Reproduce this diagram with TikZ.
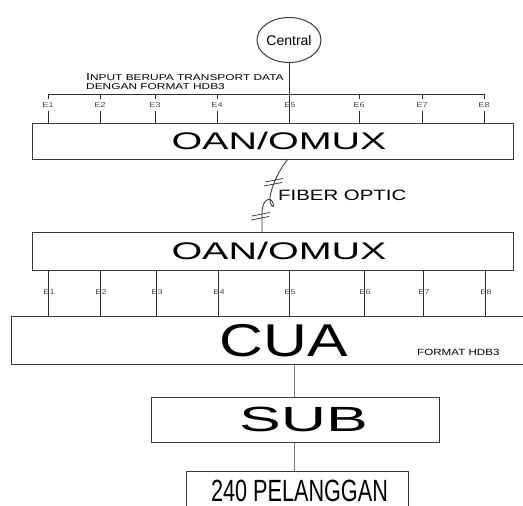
\documentclass[tikz,border=0pt]{standalone}
\usepackage{fontspec}
\setmainfont{Liberation Sans}
\usetikzlibrary{shapes.geometric}
\definecolor{boxcol}{HTML}{3A3A3A}
\definecolor{linecol}{HTML}{2E2E2E}
\definecolor{softline}{HTML}{7A7A7A}
\definecolor{labcol}{HTML}{4A4A4A}
\newcommand{\wide}[2]{\scalebox{#1}[1]{#2}}
\begin{document}
\begin{tikzpicture}[x=1pt,y=-1pt,
  unit/.style={draw=boxcol, line width=1pt, inner sep=0pt, text depth=0pt},
  conn/.style={draw=linecol, line width=0.9pt},
  softconn/.style={draw=softline, line width=1pt},
  elabel/.style={font=\fontsize{7}{7}\selectfont, text=labcol, inner xsep=1pt,
                 inner ysep=3pt, text height=5pt, text depth=0pt},
  note/.style={inner sep=0pt, text depth=0pt}]
\useasboundingbox (0,0) rectangle (523,506);
\clip (0,0) rectangle (523,506);

% exchange at the top
\node[ellipse, draw=boxcol, line width=1pt, minimum width=64pt, minimum height=45pt,
      inner sep=0pt, font=\fontsize{14}{14}\selectfont] (central) at (289,40) {Central};

% upper multiplexer
\node[unit, minimum width=481pt, minimum height=36pt, font=\fontsize{24}{24}\selectfont]
  (oan1) at (272.5,141) {\hspace*{13pt}\wide{1.645}{OAN/OMUX}};

% input note
\node[note, anchor=west, align=left, font=\fontsize{8.5}{9}\selectfont] (input) at (86,81.5)
  {\wide{1.4}{{\fontsize{10}{9}\selectfont I}NPUT BERUPA TRANSPORT DATA}\\
   \wide{1.4}{DENGAN FORMAT HDB3}};

% E1..E8 bus feeding the upper multiplexer
\coordinate (bus1) at (48,94);
\coordinate (bus8) at (484,94);
\draw[conn] (bus1) -- (bus8);
\draw[conn] (central.south) -- (central.south |- oan1.north);
\node[elabel] (te5) at (290,105) {\wide{1.3}{E5}};
\foreach \i/\x in {1/48,2/100,3/155,4/217,6/359,7/422,8/484} {
  \coordinate (tap\i) at (\x,94);
  \node[elabel] (te\i) at (\x,105) {\wide{1.3}{E\i}};
  \draw[conn] (tap\i) -- (te\i.north);
  \draw[conn] (te\i.south) -- (te\i.south |- oan1.north);
}

% lower multiplexer
\node[unit, minimum width=481pt, minimum height=38pt, font=\fontsize{24}{24}\selectfont]
  (oan2) at (272.5,251) {\hspace*{13pt}\wide{1.645}{OAN/OMUX}};

% fibre link between the multiplexers
\coordinate (f0) at (288,159);
\coordinate (f1) at (262,232);
\draw[conn, line width=0.8pt] (f0) .. controls (279,170) and (272,185) .. (270,197)
  .. controls (269,205) and (275,211) .. (273,203)
  .. controls (271,196) and (262,199) .. (262,213) -- (f1);
\draw[conn, line width=0.7pt] (265,182) -- (283,178.5);
\draw[conn, line width=0.7pt] (264,186) -- (282,182.5);
\draw[conn, line width=0.7pt] (252,216) -- (270,212.5);
\draw[conn, line width=0.7pt] (251,220) -- (269,216.5);
\node[note, anchor=west, font=\fontsize{15}{15}\selectfont] (fiber) at (278,195)
  {\wide{1.36}{FIBER OPTIC}};

% concentrator
\node[unit, minimum width=524pt, minimum height=48pt, font=\fontsize{46}{46}\selectfont]
  (cua) at (273,340) {\hspace*{22pt}\wide{1.32}{CUA}};
\node[note, anchor=west, font=\fontsize{9}{9}\selectfont] (fmt) at (417,352)
  {\wide{1.29}{FORMAT HDB3}};

% E1..E8 between lower multiplexer and concentrator
\foreach \i/\x in {1/48,2/100,3/156,4/218,5/289,6/364,7/423,8/485} {
  \coordinate (dn\i) at (\x,270);
  \draw[conn] (dn\i) -- (dn\i |- cua.north);
  \node[elabel, inner ysep=1pt] (be\i) at (\x+1,292) {\wide{1.3}{E\i}};
}

% subscriber unit and subscribers
\node[unit, minimum width=288pt, minimum height=45pt, font=\fontsize{35}{35}\selectfont]
  (sub) at (295,419.5) {\hspace*{17pt}\wide{1.79}{SUB}};
\node[unit, minimum width=222pt, minimum height=40pt, font=\fontsize{30.7}{30.7}\selectfont]
  (cust) at (297,491) {\hspace*{5pt}\wide{0.705}{240 PELANGGAN}};

\draw[softconn] (cua.south -| sub.north) ++(-1,0) coordinate (c0) -- (c0 |- sub.north);
\draw[softconn] (sub.south) ++(-1,0) coordinate (s0) -- (s0 |- cust.north);
\end{tikzpicture}
\end{document}
